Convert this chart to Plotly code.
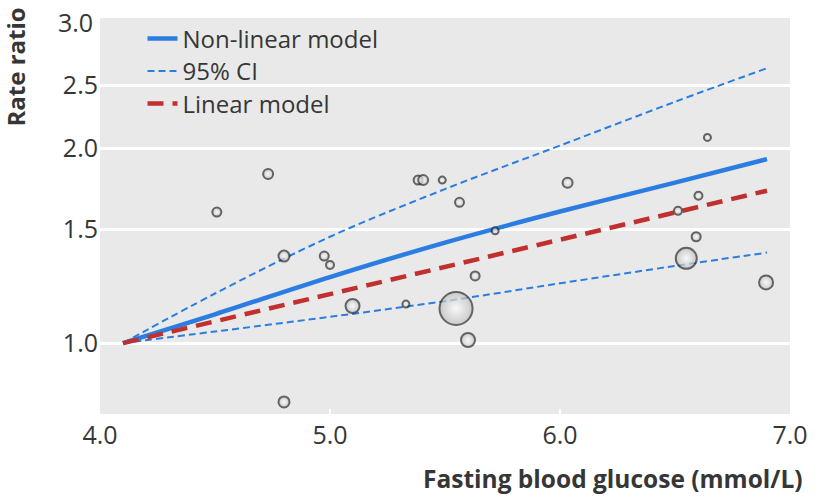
import plotly.graph_objects as go
import numpy as np

# ---- data ----
nl_x = [4.1, 4.5, 5.0, 5.5, 6.0, 6.5, 6.9]
nl_y = [1.0, 1.108, 1.265, 1.43, 1.597, 1.77, 1.925]

ci_up_x = [4.1, 4.5, 5.0, 5.5, 6.0, 6.5, 6.9]
ci_up_y = [1.0, 1.193, 1.46, 1.73, 2.02, 2.36, 2.66]

ci_lo_x = [4.1, 4.5, 5.0, 5.5, 6.0, 6.5, 6.9]
ci_lo_y = [1.0, 1.042, 1.098, 1.161, 1.237, 1.316, 1.38]

lin_x = [4.1, 6.9]
lin_y = [1.0, 1.72]

pt_x = [4.508, 4.731, 4.80, 4.80, 4.975, 5.0, 5.098, 5.33, 5.383, 5.405, 5.488,
        5.563, 5.548, 5.60, 5.631, 5.718, 6.033, 6.513, 6.549, 6.592, 6.602,
        6.641, 6.896]
pt_y = [1.594, 1.825, 1.363, 0.811, 1.363, 1.32, 1.141, 1.149, 1.786, 1.786,
        1.786, 1.65, 1.131, 1.011, 1.27, 1.491, 1.769, 1.601, 1.352, 1.46,
        1.689, 2.079, 1.241]
pt_size = [9, 10, 11, 11, 9, 8, 14, 7, 9, 10, 7, 9, 33, 14, 9, 7, 10, 8, 21, 9,
           8, 7, 14]

y_tickvals = [1.0, 1.5, 2.0, 2.5]
y_ticktext = ["1.0", "1.5", "2.0", "2.5"]
x_tickvals = [4.0, 5.0, 6.0, 7.0]
x_ticktext = ["4.0", "5.0", "6.0", "7.0"]

FONT = "Open Sans"
TXT = "#363636"
BLUE = "#2b7de2"
RED = "#c1302f"

fig = go.Figure()
fig.add_trace(go.Scatter(x=nl_x, y=nl_y, mode="lines", name="Non-linear model",
                         legend="legend",
                         line=dict(color=BLUE, width=4.5), line_shape="spline"))
fig.add_trace(go.Scatter(x=ci_up_x, y=ci_up_y, mode="lines", name="95% CI",
                         legend="legend2", legendgroup="ci", line_shape="spline",
                         line=dict(color=BLUE, width=2, dash="7px,4px")))
fig.add_trace(go.Scatter(x=ci_lo_x, y=ci_lo_y, mode="lines", name="95% CI",
                         legend="legend2", legendgroup="ci", showlegend=False,
                         line_shape="spline",
                         line=dict(color=BLUE, width=2, dash="7px,4px")))
fig.add_trace(go.Scatter(x=lin_x, y=lin_y, mode="lines", name="Linear model",
                         legend="legend3",
                         line=dict(color=RED, width=4.5, dash="16px,9px")))
fig.add_trace(go.Scatter(x=pt_x, y=pt_y, mode="markers", showlegend=False,
                         marker=dict(size=pt_size, color="#bdbdbd",
                                     gradient=dict(type="radial", color="#ffffff"),
                                     line=dict(color="#2b2b2b", width=2))))

leg_common = dict(x=0.0616, xanchor="left", yanchor="middle",
                  bgcolor="rgba(0,0,0,0)",
                  font=dict(size=24, color=TXT, family=FONT))

fig.update_layout(
    width=820, height=500,
    margin=dict(l=100, r=22, t=18, b=86),
    paper_bgcolor="white", plot_bgcolor="#e9e9e9",
    font=dict(family=FONT, color=TXT, size=25),
    showlegend=True,
    legend=dict(y=0.947, **leg_common),
    legend2=dict(y=0.865, **leg_common),
    legend3=dict(y=0.783, **leg_common),
    xaxis=dict(range=[4.0, 7.0], tickvals=x_tickvals, ticktext=x_ticktext,
               showgrid=False, zeroline=False, showline=False,
               ticks="inside", ticklen=5, tickwidth=2, tickcolor="white",
               tickfont=dict(size=25, color=TXT, family=FONT),
               ticklabelstandoff=4),
    yaxis=dict(type="log", range=[np.log10(0.777), np.log10(3.18)],
               tickvals=y_tickvals, ticktext=y_ticktext,
               showgrid=True, gridcolor="white", gridwidth=2.5,
               zeroline=False, showline=False, ticks="",
               tickfont=dict(size=25, color=TXT, family=FONT),
               ticklabelstandoff=1),
    annotations=[
        dict(text="3.0", xref="paper", yref="paper", x=0, y=1, xanchor="right",
             yanchor="middle", xshift=-5, yshift=-4, showarrow=False,
             font=dict(size=25, color=TXT, family=FONT)),
        dict(text="<b>Rate ratio</b>", xref="paper", yref="paper", x=0, y=1,
             xanchor="center", yanchor="top", xshift=-85, yshift=12,
             textangle=-90, showarrow=False,
             font=dict(size=24, color=TXT, family=FONT)),
        dict(text="<b>Fasting blood glucose (mmol/L)</b>", xref="paper", yref="paper",
             x=1, y=0, xanchor="right", yanchor="middle", xshift=15, yshift=-64,
             showarrow=False, font=dict(size=24.5, color=TXT, family=FONT)),
    ],
)

fig.write_html("out.html", config={"displayModeBar": False},
               post_script="document.body.style.margin='0px';")
